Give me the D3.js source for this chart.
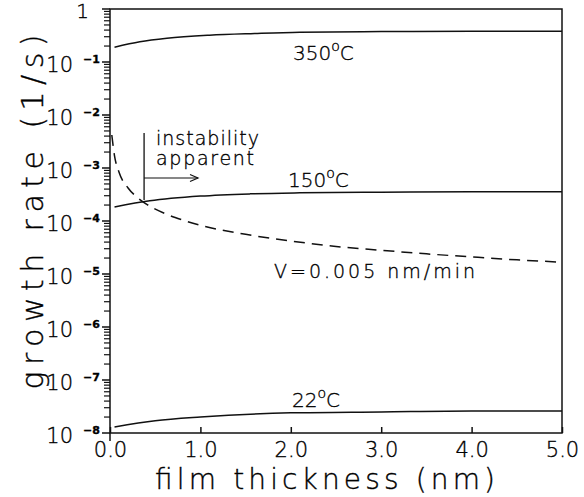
<!DOCTYPE html>
<html>
<head>
<meta charset="utf-8">
<script src="https://cdn.jsdelivr.net/npm/d3@7"></script>
<style>
  html, body { margin: 0; padding: 0; background: #fff; }
  svg { display: block; }
  text { font-family: "DejaVu Sans", "Liberation Sans", Arial, sans-serif; font-weight: 200; fill: #000; stroke: #000; stroke-width: 0.35px; }
</style>
</head>
<body>
<svg id="chart" width="584" height="497"></svg>
<script>
// ---- data ----
const thickness350 = [0.05, 0.33, 0.63, 1.1, 1.6, 2.1, 3.0, 4.0, 5.0];
const rate350      = [0.19, 0.24, 0.28, 0.32, 0.345, 0.365, 0.375, 0.38, 0.38];

const thickness150 = [0.05, 0.44, 1.0, 1.55, 2.1, 3.0, 4.0, 5.0];
const rate150      = [1.84e-4, 2.4e-4, 2.95e-4, 3.25e-4, 3.4e-4, 3.5e-4, 3.55e-4, 3.55e-4];

const thickness22  = [0.05, 0.5, 1.0, 2.0, 3.0, 4.0, 5.0];
const rate22       = [1.3e-8, 1.7e-8, 2.0e-8, 2.4e-8, 2.5e-8, 2.6e-8, 2.6e-8];

const thicknessV   = [0.02, 0.05, 0.1, 0.2, 0.3, 0.4, 0.6, 0.8, 1.0, 1.5, 2.0, 2.5, 3.0, 3.5, 4.0, 4.5, 5.0];
const rateV        = [4.2e-3, 1.7e-3, 8.3e-4, 4.2e-4, 2.8e-4, 2.1e-4, 1.4e-4, 1.05e-4, 8.3e-5, 5.6e-5, 4.2e-5, 3.3e-5, 2.8e-5, 2.4e-5, 2.1e-5, 1.85e-5, 1.67e-5];

const xTicks = [0, 1, 2, 3, 4, 5];
const xTickLabels = ["0.0", "1.0", "2.0", "3.0", "4.0", "5.0"];
const yDecades = [1e-8, 1e-7, 1e-6, 1e-5, 1e-4, 1e-3, 1e-2, 1e-1, 1];
const yExponents = ["-8", "-7", "-6", "-5", "-4", "-3", "-2", "-1", ""];

// ---- layout ----
const L = 110, R = 562, T = 9, B = 433;
const svg = d3.select("#chart");
const x = d3.scaleLinear().domain([0, 5]).range([L, R]);
const y = d3.scaleLog().domain([1e-8, 1]).range([B, T]);

// minor ticks (left axis, outward)
const minor = [];
yDecades.slice(0, -1).forEach(d => { for (let k = 2; k <= 9; k++) minor.push(d * k); });
svg.append("g").selectAll("line").data(minor).join("line")
  .attr("x1", L - 6).attr("x2", L)
  .attr("y1", d => y(d)).attr("y2", d => y(d))
  .attr("stroke", "#111").attr("stroke-width", 1.2);
svg.append("g").selectAll("line").data(yDecades).join("line")
  .attr("x1", L - 8).attr("x2", L)
  .attr("y1", d => y(d)).attr("y2", d => y(d))
  .attr("stroke", "#111").attr("stroke-width", 1.5);

// bottom axis ticks pointing inward
const xAxis = d3.axisBottom(x).tickValues(xTicks).tickSizeInner(-6).tickSizeOuter(0).tickFormat((d, i) => xTickLabels[i]);
const gx = svg.append("g").attr("transform", `translate(0,${B})`).call(xAxis);
gx.select(".domain").remove();
gx.selectAll(".tick line").attr("stroke", "#111").attr("stroke-width", 1.5);
gx.selectAll(".tick text").attr("y", 24).attr("dy", 0)
  .style("font-size", "21px")
  .style("font-family", "DejaVu Sans, Liberation Sans, Arial, sans-serif")
  .style("font-weight", "200").attr("fill", "#000");

// frame
svg.append("rect").attr("x", L).attr("y", T).attr("width", R - L).attr("height", B - T)
  .attr("fill", "none").attr("stroke", "#111").attr("stroke-width", 1.5);
svg.append("line").attr("x1", L).attr("x2", L).attr("y1", B).attr("y2", B + 8)
  .attr("stroke", "#111").attr("stroke-width", 1.5);

// y tick labels: 10 with superscript exponent
yDecades.forEach((d, i) => {
  const yy = y(d);
  if (yExponents[i] === "") {
    svg.append("text").attr("x", 89).attr("y", yy + 9).attr("text-anchor", "end")
      .style("font-size", "20px").text("1");
  } else {
    svg.append("text").attr("x", 73).attr("y", yy + 10).attr("text-anchor", "end")
      .style("font-size", "21px").text("10");
    svg.append("text").attr("x", 83).attr("y", yy + 1)
      .style("font-size", "11px").style("font-weight", "bold").text(yExponents[i].replace("-", "\u2212"));
  }
});

// axis titles
svg.append("text").attr("transform", "translate(43,212) rotate(-90)").attr("text-anchor", "middle")
  .style("font-size", "30px").attr("textLength", 355).attr("lengthAdjust", "spacing")
  .text("growth rate (1/s)");
svg.append("text").attr("x", 325).attr("y", 489).attr("text-anchor", "middle")
  .style("font-size", "28px").attr("textLength", 340).attr("lengthAdjust", "spacing")
  .text("film thickness (nm)");

// curves
const line = d3.line().x(d => x(d[0])).y(d => y(d[1])).curve(d3.curveMonotoneX);
const series = [
  [thickness350, rate350, null],
  [thickness150, rate150, null],
  [thickness22, rate22, null],
  [thicknessV, rateV, "11,7"]
];
series.forEach(([xs, ys, dash]) => {
  svg.append("path").datum(xs.map((v, i) => [v, ys[i]]))
    .attr("d", line).attr("fill", "none").attr("stroke", "#111").attr("stroke-width", 1.5)
    .attr("stroke-dasharray", dash);
});

// curve labels
function tempLabel(xp, yp, num) {
  const t = svg.append("text").attr("x", xp).attr("y", yp).style("font-size", "20px");
  t.append("tspan").text(num);
  t.append("tspan").attr("dy", -9).style("font-size", "14px").text("o");
  t.append("tspan").attr("dy", 9).text("C");
}
tempLabel(293, 60, "350");
tempLabel(288, 187, "150");
tempLabel(292, 407, "22");
svg.append("text").attr("x", 274).attr("y", 278).style("font-size", "19px")
  .attr("textLength", 201).attr("lengthAdjust", "spacing").text("V=0.005  nm/min");

// instability annotation
svg.append("text").attr("x", 156).attr("y", 145).style("font-size", "19px")
  .attr("textLength", 103).attr("lengthAdjust", "spacing").text("instability");
svg.append("text").attr("x", 156).attr("y", 165).style("font-size", "19px")
  .attr("textLength", 98).attr("lengthAdjust", "spacing").text("apparent");
svg.append("line").attr("x1", x(0.377)).attr("x2", x(0.377)).attr("y1", 133).attr("y2", 200)
  .attr("stroke", "#111").attr("stroke-width", 1.3);
svg.append("line").attr("x1", x(0.377)).attr("x2", 198).attr("y1", 178).attr("y2", 178)
  .attr("stroke", "#111").attr("stroke-width", 1.2);
svg.append("path").attr("d", "M190,174.5 L198,178 L190,181.5").attr("fill", "none")
  .attr("stroke", "#111").attr("stroke-width", 1.2);
</script>
</body>
</html>
